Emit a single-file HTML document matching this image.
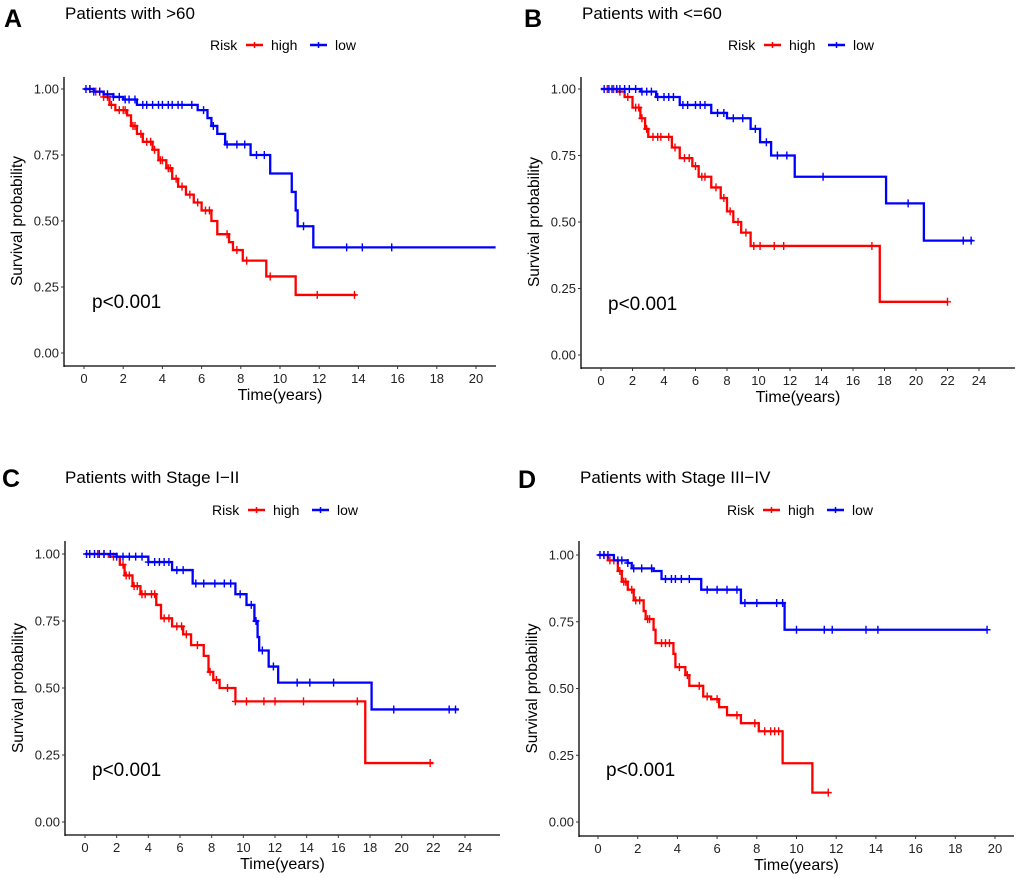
<!DOCTYPE html>
<html><head><meta charset="utf-8">
<style>
body{margin:0;background:#fff;}
svg{display:block;font-family:"Liberation Sans",Arial,sans-serif;}
</style></head>
<body>
<svg id="fig" width="1020" height="878" viewBox="0 0 1020 878"></svg>
<script>
// Panel A data
const aHighT=[0,0.5,1,1.3,1.6,2.2,2.4,2.7,3,3.5,3.8,4.2,4.5,4.8,5.2,5.6,6,6.5,6.8,7.4,7.6,8.1,9.3,10.8,13.9];
const aHighS=[1,0.99,0.97,0.94,0.92,0.90,0.86,0.83,0.80,0.77,0.73,0.70,0.66,0.63,0.60,0.57,0.54,0.50,0.45,0.42,0.39,0.35,0.29,0.22,0.22];
const aHighC=[0.3,0.6,0.8,1.0,1.2,1.4,1.8,2.0,2.1,2.5,2.6,2.9,3.2,3.4,3.6,3.9,4.0,4.3,4.4,4.7,5.0,5.4,5.8,6.2,6.4,7.3,7.8,8.3,9.5,11.9,13.8];
const aLowT=[0,0.5,1,1.5,2,2.7,5.8,6.3,6.5,6.8,7.2,8.5,9.5,10.6,10.8,10.9,11.7,21];
const aLowS=[1,0.99,0.98,0.97,0.96,0.94,0.92,0.89,0.86,0.83,0.79,0.75,0.68,0.61,0.54,0.48,0.40,0.40];
const aLowC=[0.1,0.3,0.5,0.8,1.2,1.5,1.8,2.1,2.3,2.6,3,3.2,3.5,3.8,4,4.3,4.5,4.8,5,5.5,6.1,6.6,7.3,7.8,8.2,8.8,9.2,11.2,13.4,14.2,15.7];
// Panel B data
const bHighT=[0,1,1.5,2,2.5,2.8,3,4.5,5,5.8,6.2,7,7.6,8,8.4,8.9,9.5,17.7,22];
const bHighS=[1,0.99,0.97,0.93,0.89,0.85,0.82,0.78,0.74,0.71,0.67,0.63,0.59,0.54,0.50,0.46,0.41,0.20,0.20];
const bHighC=[0.4,0.8,1.2,1.7,2.2,2.4,2.6,2.9,3.3,3.6,3.8,4.3,4.7,5.3,5.6,6.0,6.4,6.6,7.3,7.8,8.2,8.7,9.2,9.7,10.1,11,11.6,17.2,22];
const bLowT=[0,2.5,3.5,5,7,8,9.5,10.1,10.8,12.3,18.1,20.5,23.6];
const bLowS=[1,0.99,0.97,0.94,0.91,0.89,0.85,0.80,0.75,0.67,0.57,0.43,0.43];
const bLowC=[0.2,0.5,0.7,1,1.2,1.5,1.8,2.2,2.6,2.9,3.2,3.6,4,4.3,4.6,5.2,5.5,6,6.3,6.6,7.4,7.8,8.4,9,9.8,10.5,11.2,11.8,14.1,19.5,23,23.5];
// Panel C data
const cHighT=[0,1.5,2.2,2.5,3,3.5,4.5,4.8,5.5,6.2,6.7,7.5,7.8,8.1,8.5,9.5,17.7,22];
const cHighS=[1,0.99,0.96,0.92,0.88,0.85,0.81,0.76,0.73,0.70,0.66,0.62,0.56,0.53,0.50,0.45,0.22,0.22];
const cHighC=[0.3,0.8,1.2,1.8,2.4,2.6,2.8,3.1,3.3,3.6,3.8,4.2,4.4,5,5.3,5.8,6.1,6.4,7.1,7.9,8.3,9,9.5,10.2,11.3,12,13.8,17.2,21.8];
const cLowT=[0,2,4,5.5,6.8,9.5,10.2,10.7,10.9,11,11.6,12.2,18.1,23.6];
const cLowS=[1,0.99,0.97,0.94,0.89,0.85,0.81,0.75,0.69,0.64,0.58,0.52,0.42,0.42];
const cLowC=[0.1,0.3,0.6,0.9,1.2,1.6,2,2.4,2.8,3.2,3.6,4.0,4.4,4.7,5,5.3,5.8,6.2,7,7.5,8.2,8.8,9.2,9.8,10.5,10.8,11.2,11.9,13.4,14.2,15.7,19.5,23,23.4];
// Panel D data
const dHighT=[0,0.5,1,1.2,1.5,1.8,2.3,2.4,2.8,2.9,3.8,3.9,4.4,4.6,5.3,5.7,6.1,6.5,7.2,8.1,9.3,10.8,11.6];
const dHighS=[1,0.98,0.94,0.90,0.87,0.83,0.79,0.76,0.72,0.67,0.63,0.58,0.55,0.51,0.47,0.46,0.43,0.40,0.37,0.34,0.22,0.11,0.11];
const dHighC=[0.3,0.6,0.8,1.1,1.3,1.4,1.7,1.9,2.1,2.5,2.6,3.2,3.4,3.6,4.1,4.5,5.1,5.5,6.0,7.0,7.9,8.4,8.7,8.9,9.1,11.6];
const dLowT=[0,0.8,1.5,1.7,2.8,3.2,5.2,7.2,9.4,19.6];
const dLowS=[1,0.98,0.97,0.95,0.94,0.91,0.87,0.82,0.72,0.72];
const dLowC=[0.1,0.3,0.5,1.0,1.2,1.5,1.8,2.2,2.7,3.4,3.7,3.9,4.2,4.6,5.5,6,6.5,7,7.4,8,9,9.3,10,11.4,11.8,13.5,14.1,19.6];
const yTicks=[0,0.25,0.5,0.75,1];
const yTickLabels=["0.00","0.25","0.50","0.75","1.00"];

const NS='http://www.w3.org/2000/svg';
const svg=document.getElementById('fig');
function mk(tag,attrs,parent){const e=document.createElementNS(NS,tag);for(const k in attrs)e.setAttribute(k,attrs[k]);(parent||svg).appendChild(e);return e;}

function panel(cfg){
  const g=mk('g',{});
  
  
  const sx=t=>cfg.x0+(cfg.x1-cfg.x0)*t/cfg.xMaxTick;
  const sy=s=>cfg.y0+(cfg.y1-cfg.y0)*s;
  const L=mk('text',{x:cfg.lx,y:cfg.ly,'font-size':25,'font-weight':'bold',fill:'#000'},g);L.textContent=cfg.letter;
  
  
  const T=mk('text',{x:cfg.tx,y:cfg.ty,'font-size':17,fill:'#000'},g);T.textContent=cfg.title;
  
  
  const lg=mk('g',{},g);
  
  
  const ly=cfg.legY;
  let t=mk('text',{x:cfg.legX,y:ly+5,'font-size':14,fill:'#000'},lg);t.textContent='Risk';
  const items=[['high','#ff0000',cfg.legX+36],['low','#0000ff',cfg.legX+100]];
  items.forEach(it=>{
    const e=mk('g',{},lg);
    
    
    mk('line',{x1:it[2],x2:it[2]+17,y1:ly,y2:ly,stroke:it[1],'stroke-width':2.4},e);
    mk('line',{x1:it[2]+8.5,x2:it[2]+8.5,y1:ly-3,y2:ly+3,stroke:it[1],'stroke-width':1.5},e);
    const tx=mk('text',{x:it[2]+25,y:ly+5,'font-size':14,fill:'#000'},e);tx.textContent=it[0];
  });
  const ax=mk('g',{},g);
  
  
  mk('line',{x1:cfg.axX,x2:cfg.axX,y1:cfg.axTop,y2:cfg.axBot+1,stroke:'#000','stroke-width':1.3},ax);
  mk('line',{x1:cfg.axX,x2:cfg.axRight,y1:cfg.axBot,y2:cfg.axBot,stroke:'#000','stroke-width':1.3},ax);
  yTicks.forEach((v,i)=>{
    const y=sy(v);
    mk('line',{x1:cfg.axX-3,x2:cfg.axX,y1:y,y2:y,stroke:'#333','stroke-width':1},ax);
    const tt=mk('text',{x:cfg.axX-5,y:y+4.5,'font-size':13,'text-anchor':'end',fill:'#222'},ax);tt.textContent=yTickLabels[i];
  });
  for(let v=0;v<=cfg.xMaxTick;v+=2){
    const x=sx(v);
    mk('line',{x1:x,x2:x,y1:cfg.axBot,y2:cfg.axBot+3,stroke:'#333','stroke-width':1},ax);
    const tt=mk('text',{x:x,y:cfg.axBot+17,'font-size':13,'text-anchor':'middle',fill:'#222'},ax);tt.textContent=String(v);
  }
  const xt=mk('text',{x:(cfg.axX+cfg.axRight)/2,y:cfg.axBot+34,'font-size':16,'text-anchor':'middle',fill:'#000'},ax);xt.textContent='Time(years)';
  
  
  const yc=(cfg.y0+cfg.y1)/2;
  const yt=mk('text',{x:cfg.axX-42,y:yc,'font-size':15.5,'text-anchor':'middle',fill:'#000',transform:`rotate(-90 ${cfg.axX-42} ${yc})`},ax);yt.textContent='Survival probability';
  
  
  cfg.series.forEach(se=>{
    const sg=mk('g',{},g);
    
    
    let d='M'+sx(se.t[0])+','+sy(se.s[0]);
    for(let i=1;i<se.t.length;i++){d+=' H'+sx(se.t[i])+' V'+sy(se.s[i]);}
    mk('path',{d:d,fill:'none',stroke:se.color,'stroke-width':2.3},sg);
    se.c.forEach(ct=>{
      let s=se.s[0];
      for(let i=0;i<se.t.length;i++){if(se.t[i]<=ct)s=se.s[i];}
      const x=sx(ct),y=sy(s);
      const m=mk('path',{d:`M${x-3.5},${y}H${x+3.5}M${x},${y-4}V${y+4}`,stroke:se.color,'stroke-width':1.4},sg);
      
      
    });
  });
  const p=mk('text',{x:cfg.pX,y:cfg.pY,'font-size':19,fill:'#000'},g);p.textContent='p<0.001';
  
  
}

panel({letter:'A',lx:4,ly:27,title:'Patients with >60',tx:65,ty:19,legX:210,legY:45,
  axX:64,axTop:77,axBot:366,axRight:496,x0:84,x1:476,xMaxTick:20,y0:353,y1:89,pX:92,pY:308,
  series:[{name:'high',color:'#ff0000',t:aHighT,s:aHighS,c:aHighC},{name:'low',color:'#0000ff',t:aLowT,s:aLowS,c:aLowC}]});
panel({letter:'B',lx:524,ly:27,title:'Patients with <=60',tx:582,ty:19,legX:728,legY:45,
  axX:581,axTop:77,axBot:368,axRight:1015,x0:601,x1:979,xMaxTick:24,y0:355,y1:89,pX:608,pY:310,
  series:[{name:'high',color:'#ff0000',t:bHighT,s:bHighS,c:bHighC},{name:'low',color:'#0000ff',t:bLowT,s:bLowS,c:bLowC}]});
panel({letter:'C',lx:2,ly:487,title:'Patients with Stage I\u2212II',tx:65,ty:483,legX:212,legY:510,
  axX:65,axTop:541,axBot:835,axRight:500,x0:85,x1:465,xMaxTick:24,y0:822,y1:554,pX:92,pY:776,
  series:[{name:'high',color:'#ff0000',t:cHighT,s:cHighS,c:cHighC},{name:'low',color:'#0000ff',t:cLowT,s:cLowS,c:cLowC}]});
panel({letter:'D',lx:518,ly:488,title:'Patients with Stage III\u2212IV',tx:580,ty:483,legX:727,legY:510,
  axX:579,axTop:541,axBot:836,axRight:1014,x0:598,x1:995,xMaxTick:20,y0:822,y1:555,pX:606,pY:776,
  series:[{name:'high',color:'#ff0000',t:dHighT,s:dHighS,c:dHighC},{name:'low',color:'#0000ff',t:dLowT,s:dLowS,c:dLowC}]});
</script>
</body></html>
